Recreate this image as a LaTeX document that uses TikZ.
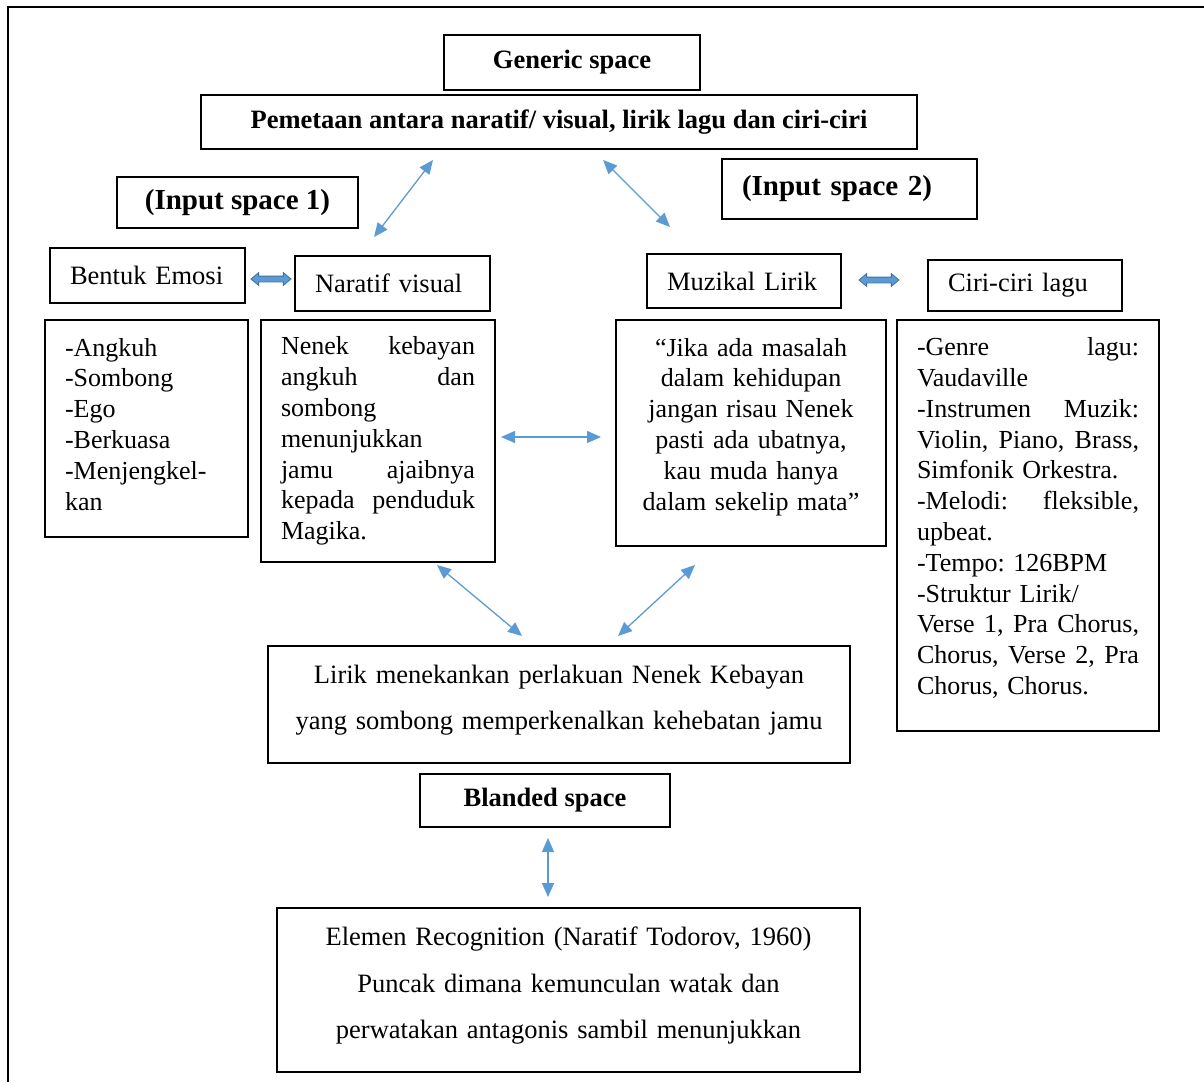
\documentclass[tikz,border=0pt]{standalone}
\usepackage{fontspec}
\setmainfont{Liberation Serif}
\usepackage{xcolor}
\usetikzlibrary{arrows.meta,shapes.arrows}
\definecolor{linkblue}{RGB}{91,155,213}
\definecolor{linkdark}{RGB}{65,113,156}
\frenchspacing
\newcommand{\lowstrut}[1]{\rule[-#1]{0pt}{#1}}

\begin{document}
\begin{tikzpicture}[x=1pt, y=-1pt,
  every node/.style={font=\fontsize{26.5}{30.8}\selectfont},
  box/.style={draw, line width=1.1pt, inner sep=0pt, align=center},
  lbox/.style={box, align=left, inner xsep=20pt},
  txtbox/.style={box, inner xsep=20pt, inner ysep=0pt, font=\fontsize{26}{30.8}\selectfont},
  head/.style={box, font=\fontsize{26.5}{30.8}\selectfont\bfseries},
  wide/.style={font=\fontsize{26.5}{46.5}\selectfont},
  link/.style={linkblue, line width=1.3pt, {Triangle[length=14pt,width=12pt]}-{Triangle[length=14pt,width=12pt]}},
  fat/.style={double arrow, draw=linkdark, fill=linkblue, line width=0.8pt,
    minimum height=40pt, inner xsep=0pt, inner ysep=2.5pt,
    double arrow head extend=3.5pt, double arrow tip angle=80}]
  \useasboundingbox (0,0) rectangle (1204,1082);
  % frame
  \draw[line width=2pt] (8,1082) -- (8,7) -- (1204,7);

  \node[head, minimum width=256pt, minimum height=55pt] (gen) at (572,62.5) {Generic space};
  \node[head, minimum width=716pt, minimum height=54pt] (map) at (559,122) {Pemetaan antara naratif/ visual, lirik lagu dan ciri-ciri};
  \node[head, minimum width=241pt, minimum height=51pt, font=\fontsize{29}{33}\selectfont\bfseries] (in1) at (237.5,202.5) {(Input space 1)};
  \node[lbox, text width=215pt, minimum height=60pt, font=\fontsize{29}{33}\selectfont\bfseries] (in2) at (849.5,189) {(Input space 2)};

  \node[lbox, text width=155pt, minimum height=55pt] (emo) at (147.5,275.5) {Bentuk Emosi};
  \node[lbox, text width=155pt, minimum height=55pt] (nar) at (392.5,283.5) {Naratif visual};
  \node[lbox, text width=154pt, minimum height=54pt] (muz) at (744,281) {Muzikal Lirik};
  \node[lbox, text width=154pt, minimum height=51pt] (ciri) at (1025,285.5) {Ciri-ciri lagu};

  \node[fat] (fa1) at (271,279) {};
  \node[fat] (fa2) at (879,280) {};

  \node[txtbox, align=left, text width=163pt, minimum height=217pt] (emolist) at (146.5,428.5)
    {-Angkuh\\-Sombong\\-Ego\\-Berkuasa\\-Menjengkel-\\kan\lowstrut{9pt}};
  \node[txtbox, align=left, text width=194pt, minimum height=242pt] (nenek) at (378,441)
    {Nenek\hfill kebayan\\angkuh\hfill dan\\sombong\\menunjukkan\\jamu\hfill ajaibnya\\kepada\hfill penduduk\\Magika.};
  \node[txtbox, text width=230pt, minimum height=226pt] (quote) at (751,433)
    {“Jika ada masalah\\dalam kehidupan\\jangan risau Nenek\\pasti ada ubatnya,\\kau muda hanya\\dalam sekelip mata”\lowstrut{18pt}};
  \node[txtbox, align=left, text width=222pt, minimum height=411pt] (cirilist) at (1028,525.5)
    {-Genre\hfill lagu:\\Vaudaville\\-Instrumen\hfill Muzik:\\Violin,\hfill Piano,\hfill Brass,\\Simfonik Orkestra.\\-Melodi:\hfill fleksible,\\upbeat.\\-Tempo: 126BPM\\-Struktur Lirik/\\Verse\hfill 1,\hfill Pra\hfill Chorus,\\Chorus,\hfill Verse\hfill 2,\hfill Pra\\Chorus, Chorus.\lowstrut{19pt}};

  \node[box, wide, text width=582pt, minimum height=117pt] (blend) at (559,704.5)
    {Lirik menekankan perlakuan Nenek Kebayan\\yang sombong memperkenalkan kehebatan jamu\lowstrut{14pt}};
  \node[head, minimum width=250pt, minimum height=53pt] (bsp) at (545,800.5) {Blanded space};
  \node[box, wide, text width=583pt, minimum height=164pt] (elem) at (568.5,990)
    {Elemen Recognition (Naratif Todorov, 1960)\\Puncak dimana kemunculan watak dan\\perwatakan antagonis sambil menunjukkan\lowstrut{14pt}};

  % arrow ends
  \coordinate (a1) at (374,237); \coordinate (a2) at (433,160);
  \coordinate (b1) at (603,160); \coordinate (b2) at (670,227);
  \coordinate (c1) at (501,437); \coordinate (c2) at (601,437);
  \coordinate (d1) at (437,565); \coordinate (d2) at (522,636);
  \coordinate (e1) at (618,636); \coordinate (e2) at (695,565);
  \coordinate (f1) at (548,838); \coordinate (f2) at (548,897);
  \draw[link] (a1) -- (a2);
  \draw[link] (b1) -- (b2);
  \draw[link] (c1) -- (c2);
  \draw[link] (d1) -- (d2);
  \draw[link] (e1) -- (e2);
  \draw[link] (f1) -- (f2);
\end{tikzpicture}
\end{document}
